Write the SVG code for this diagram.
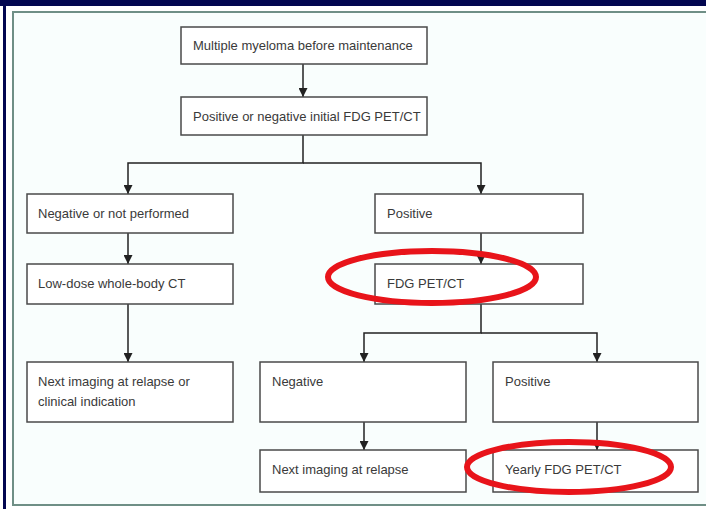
<svg xmlns="http://www.w3.org/2000/svg" width="706" height="509" viewBox="0 0 706 509">
<defs>
<marker id="ah" viewBox="0 0 10 10" refX="10" refY="5" markerWidth="9" markerHeight="9" markerUnits="userSpaceOnUse" orient="auto">
<path d="M0,0 L10,5 L0,10 z" fill="#222"/>
</marker>
<style>
.box{fill:#ffffff;stroke:#4a4a4a;stroke-width:1.5}
.t{font-family:"Liberation Sans",Arial,sans-serif;font-size:13px;fill:#3a3a3a}
.c{fill:none;stroke:#222;stroke-width:1.5}
.hl{fill:none;stroke:#e8141a;stroke-width:6}
</style>
</defs>
<rect x="0" y="0" width="706" height="509" fill="#ffffff"/>
<rect x="0" y="0" width="706" height="6" fill="#020650"/>
<rect x="3" y="0" width="3" height="509" fill="#020650"/>
<rect x="13" y="12" width="700" height="493" fill="#f9fefd" stroke="#6f8f86" stroke-width="2"/>

<g id="connectors">
<path class="c" d="M303,64 V97" marker-end="url(#ah)"/>
<path class="c" d="M303,135 V163 H128 V194" marker-end="url(#ah)"/>
<path class="c" d="M303,163 H481 V194" marker-end="url(#ah)"/>
<path class="c" d="M128,233 V264" marker-end="url(#ah)"/>
<path class="c" d="M128,304 V362" marker-end="url(#ah)"/>
<path class="c" d="M481,233 V264" marker-end="url(#ah)"/>
<path class="c" d="M481,304 V333 H364 V362" marker-end="url(#ah)"/>
<path class="c" d="M481,333 H597 V362" marker-end="url(#ah)"/>
<path class="c" d="M364,422 V450" marker-end="url(#ah)"/>
<path class="c" d="M597,422 V450" marker-end="url(#ah)"/>
</g>

<g id="n1"><rect class="box" x="181" y="27" width="246" height="37"/><text class="t" x="193" y="50">Multiple myeloma before maintenance</text></g>
<g id="n2"><rect class="box" x="181" y="97" width="246" height="38"/><text class="t" x="193" y="121">Positive or negative initial FDG PET/CT</text></g>
<g id="n3"><rect class="box" x="27" y="194" width="206" height="39"/><text class="t" x="38" y="218">Negative or not performed</text></g>
<g id="n4"><rect class="box" x="27" y="264" width="206" height="40"/><text class="t" x="38" y="288">Low-dose whole-body CT</text></g>
<g id="n5"><rect class="box" x="27" y="362" width="206" height="60"/><text class="t" x="38" y="386">Next imaging at relapse or</text><text class="t" x="38" y="406">clinical indication</text></g>
<g id="n6"><rect class="box" x="375" y="194" width="208" height="39"/><text class="t" x="387" y="218">Positive</text></g>
<g id="n7"><rect class="box" x="375" y="264" width="208" height="40"/><text class="t" x="387" y="288">FDG PET/CT</text></g>
<g id="n8"><rect class="box" x="260" y="362" width="206" height="60"/><text class="t" x="272" y="386">Negative</text></g>
<g id="n9"><rect class="box" x="493" y="362" width="205" height="60"/><text class="t" x="505" y="386">Positive</text></g>
<g id="n10"><rect class="box" x="260" y="450" width="206" height="42"/><text class="t" x="272" y="474">Next imaging at relapse</text></g>
<g id="n11"><rect class="box" x="493" y="450" width="205" height="42"/><text class="t" x="505" y="474">Yearly FDG PET/CT</text></g>

<g id="highlights">
<ellipse class="hl" cx="432" cy="277" rx="104" ry="26"/>
<ellipse class="hl" cx="569" cy="467" rx="102" ry="25"/>
</g>
</svg>
